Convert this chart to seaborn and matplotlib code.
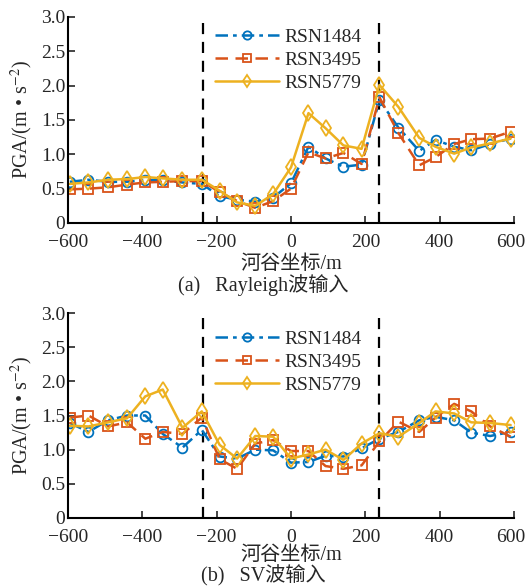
import numpy as np
import pandas as pd
import matplotlib
matplotlib.use("Agg")
import matplotlib.pyplot as plt
import matplotlib.transforms as mtransforms
import seaborn as sns

# ---- data ----
x_pos = [-595, -545, -492, -441, -392, -345, -292, -240, -192, -145, -96, -48,
         0, 47, 93, 141, 190, 238, 289, 345, 389, 439, 485, 536, 591]

series_names = ["RSN1484", "RSN3495", "RSN5779"]

ray_rsn1484 = [0.60, 0.63, 0.60, 0.60, 0.63, 0.62, 0.59, 0.57, 0.39, 0.34, 0.31, 0.37,
               0.58, 1.11, 0.94, 0.82, 0.85, 1.79, 1.39, 1.05, 1.21, 1.11, 1.06, 1.15, 1.23]
ray_rsn3495 = [0.49, 0.50, 0.52, 0.56, 0.59, 0.60, 0.61, 0.61, 0.45, 0.32, 0.22, 0.32,
               0.50, 1.03, 0.94, 1.02, 0.86, 1.83, 1.31, 0.84, 0.96, 1.15, 1.22, 1.23, 1.33]
ray_rsn5779 = [0.57, 0.59, 0.63, 0.64, 0.67, 0.65, 0.63, 0.63, 0.47, 0.30, 0.25, 0.42,
               0.81, 1.60, 1.38, 1.13, 1.08, 2.01, 1.69, 1.24, 1.11, 1.01, 1.10, 1.16, 1.23]

sv_rsn1484 = [1.39, 1.26, 1.43, 1.50, 1.50, 1.23, 1.03, 1.29, 0.90, 0.87, 1.00, 0.99,
              0.81, 0.82, 0.91, 0.90, 1.02, 1.16, 1.26, 1.43, 1.48, 1.43, 1.25, 1.20, 1.26]
sv_rsn3495 = [1.47, 1.50, 1.34, 1.40, 1.16, 1.26, 1.23, 1.47, 0.86, 0.72, 1.09, 1.14,
              0.98, 0.98, 0.76, 0.72, 0.77, 1.12, 1.41, 1.26, 1.47, 1.67, 1.56, 1.34, 1.19]
sv_rsn5779 = [1.35, 1.34, 1.40, 1.46, 1.78, 1.88, 1.32, 1.56, 1.07, 0.87, 1.20, 1.19,
              0.87, 0.93, 1.00, 0.85, 1.09, 1.24, 1.19, 1.39, 1.56, 1.53, 1.40, 1.39, 1.36]

boundaries = [-238, 238]
x_ticks = [-600, -400, -200, 0, 200, 400, 600]
y_ticks = [0, 0.5, 1.0, 1.5, 2.0, 2.5, 3.0]
y_ticklabels = ["0", "0.5", "1.0", "1.5", "2.0", "2.5", "3.0"]
xlabel = "河谷坐标/m"
ylabel = r"PGA/(m • s$^{-2}$)"
captions = ["(a)   Rayleigh波输入", "(b)   SV波输入"]

# ---- style ----
sns.set_style("ticks")
plt.rcParams["font.family"] = ["Liberation Serif", "Noto Sans CJK SC"]
plt.rcParams["mathtext.fontset"] = "stix"
plt.rcParams["axes.unicode_minus"] = True

colors = ["#0072BD", "#D95319", "#EDB120"]
markers = ["o", "s", "d"]
linestyles = [(0, (5, 2, 1.5, 2)), (0, (5, 3)), "-"]
msizes = [7, 7, 8.5]

fig = plt.figure(figsize=(5.27, 5.88), dpi=100)
W, H = 527, 588
ax_a = fig.add_axes([68 / W, 1 - 223 / H, (514 - 68) / W, (223 - 17) / H])
ax_b = fig.add_axes([68 / W, 1 - 518 / H, (514 - 68) / W, (518 - 313) / H])

# (axes, data, caption, caption y px, xlabel center px, legend top px, axes top, axes bottom)
panels = [
    (ax_a, [ray_rsn1484, ray_rsn3495, ray_rsn5779], captions[0], 285, 265, 28, 17, 223),
    (ax_b, [sv_rsn1484, sv_rsn3495, sv_rsn5779], captions[1], 576, 556, 330, 313, 518),
]

for ax, ys, cap, cap_y, xl_y, leg_top, ax_top, ax_bot in panels:
    for name, yv, c, m, ls, ms in zip(series_names, ys, colors, markers, linestyles, msizes):
        df = pd.DataFrame({"x": x_pos, "y": yv})
        sns.lineplot(data=df, x="x", y="y", ax=ax, color=c, marker=m, linestyle=ls,
                     linewidth=1.8, markersize=ms, markerfacecolor="none",
                     markeredgecolor=c, markeredgewidth=1.3, label=name, sort=False)
    for b in boundaries:
        ax.axvline(b, color="black", linestyle=(0, (5, 3.5)), linewidth=1.6, zorder=0)
    ax.set_xlim(-600, 600)
    ax.set_ylim(0, 3.0)
    ax.set_xticks(x_ticks)
    ax.set_xticklabels([str(t).replace("-", "\u2212") for t in x_ticks])
    ax.set_yticks(y_ticks)
    ax.set_yticklabels(y_ticklabels)
    ax.tick_params(direction="in", length=5, width=1.2, labelsize=14)
    ax.tick_params(axis="x", pad=8)
    ax.tick_params(axis="y", pad=2)
    # nudge the last x tick label so it stays inside the canvas
    last = ax.get_xticklabels()[-1]
    last.set_transform(last.get_transform() +
                       mtransforms.ScaledTranslation(-2.5 / 72, 0, fig.dpi_scale_trans))
    for s in ["top", "right"]:
        ax.spines[s].set_visible(False)
    for s in ["left", "bottom"]:
        ax.spines[s].set_linewidth(1.5)
        ax.spines[s].set_color("black")
    ax.set_xlabel(xlabel, fontsize=14.5)
    ax.xaxis.set_label_coords(0.5, (ax_bot - xl_y) / (ax_bot - ax_top))
    ax.xaxis.label.set_va("center")
    ax.set_ylabel(ylabel, fontsize=14.5, labelpad=4)
    leg = ax.legend(loc="upper left",
                    bbox_to_anchor=((215 - 68) / 446, (ax_bot - leg_top) / (ax_bot - ax_top)),
                    frameon=False, fontsize=14, handlelength=3.3, handletextpad=0.25,
                    labelspacing=0.28, borderaxespad=0, borderpad=0)
    for h in leg.legend_handles:
        h.set_markersize(6)
    fig.text(0.5, 1 - cap_y / H, cap, ha="center", va="center", fontsize=14.5)

fig.savefig("out.png", dpi=100)
